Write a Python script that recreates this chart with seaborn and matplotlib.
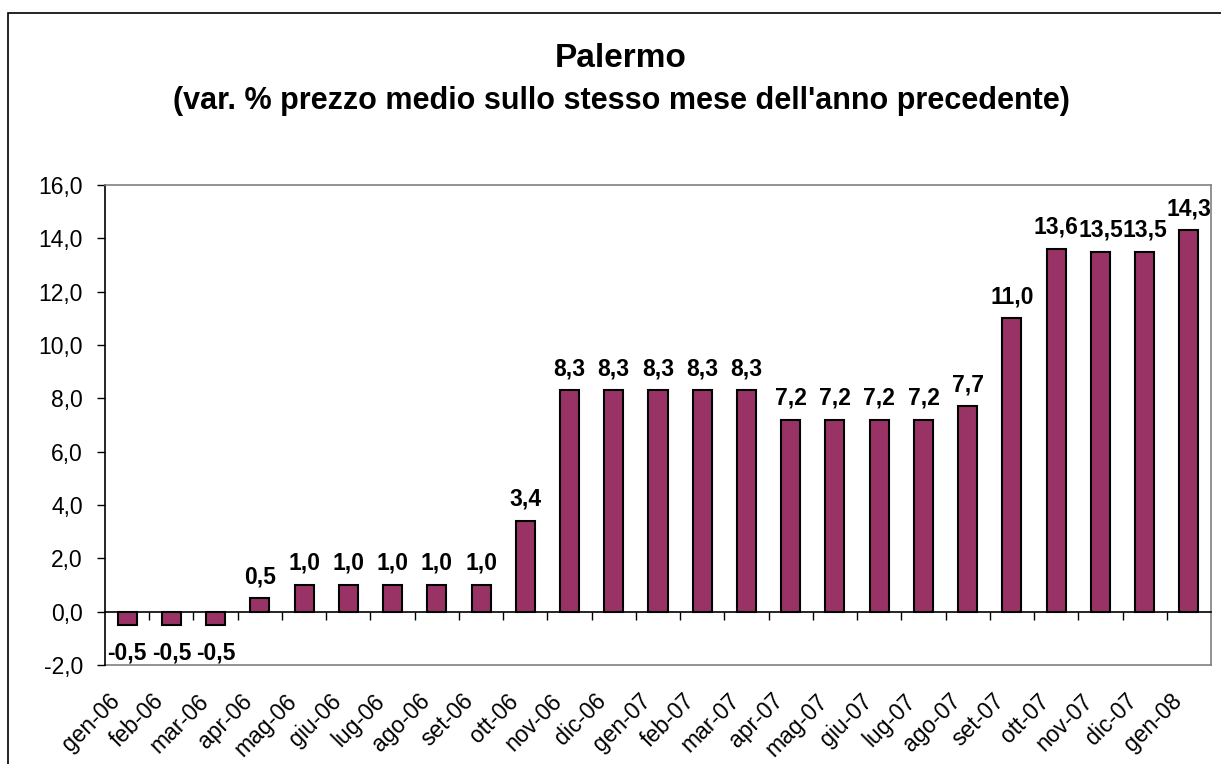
import matplotlib
matplotlib.use("Agg")
import matplotlib.pyplot as plt
import seaborn as sns
import pandas as pd
from matplotlib.patches import Rectangle
from matplotlib.ticker import FixedLocator, FuncFormatter, NullFormatter
import matplotlib.transforms as mtrans

months = ["gen-06", "feb-06", "mar-06", "apr-06", "mag-06", "giu-06", "lug-06",
          "ago-06", "set-06", "ott-06", "nov-06", "dic-06", "gen-07", "feb-07",
          "mar-07", "apr-07", "mag-07", "giu-07", "lug-07", "ago-07", "set-07",
          "ott-07", "nov-07", "dic-07", "gen-08"]
values = [-0.5, -0.5, -0.5, 0.5, 1.0, 1.0, 1.0, 1.0, 1.0, 3.4, 8.3, 8.3, 8.3,
          8.3, 8.3, 7.2, 7.2, 7.2, 7.2, 7.7, 11.0, 13.6, 13.5, 13.5, 14.3]
y_ticks = [-2, 0, 2, 4, 6, 8, 10, 12, 14, 16]
title = "Palermo"
subtitle = "(var. % prezzo medio sullo stesso mese dell'anno precedente)"

sns.set_style("white")
plt.rcParams["font.family"] = ["Liberation Sans", "DejaVu Sans"]
plt.rcParams["text.color"] = "black"
plt.rcParams["xtick.color"] = "black"
plt.rcParams["ytick.color"] = "black"
plt.rcParams["xtick.labelcolor"] = "black"
plt.rcParams["ytick.labelcolor"] = "black"

W, H = 1221, 764
fig = plt.figure(figsize=(W / 100, H / 100), dpi=100)
ax = fig.add_axes([105 / W, 1 - 665 / H, (1211 - 105) / W, (665 - 185) / H])

df = pd.DataFrame({"mese": months, "var": values})
sns.barplot(data=df, x="mese", y="var", color="#993366", saturation=1,
            edgecolor="black", linewidth=1.5, width=0.43, ax=ax)

ax.set_xlim(-0.5, len(months) - 0.5)
ax.set_ylim(y_ticks[0], y_ticks[-1])
ax.set_xlabel("")
ax.set_ylabel("")

# y axis
ax.yaxis.set_major_locator(FixedLocator(y_ticks))
ax.yaxis.set_major_formatter(FuncFormatter(lambda v, p: f"{v:.1f}".replace(".", ",")))
ax.tick_params(axis="y", which="major", left=True, direction="out", length=6,
               width=1, color="black", labelsize=16.5, labelcolor="black", pad=10)

# zero line with category separators
ax.spines["bottom"].set_position(("data", 0))
ax.spines["bottom"].set_color("black")
ax.spines["bottom"].set_linewidth(1.2)
ax.xaxis.set_major_locator(FixedLocator([i + 0.5 for i in range(len(months) - 1)]))
ax.xaxis.set_major_formatter(NullFormatter())
ax.tick_params(axis="x", which="major", bottom=True, direction="out", length=6,
               width=1, color="black")

ax.spines["left"].set_color("black")
ax.spines["left"].set_linewidth(1.2)
for s in ["top", "right"]:
    ax.spines[s].set_visible(True)
    ax.spines[s].set_color("#808080")
    ax.spines[s].set_linewidth(1.2)

# category labels on a secondary axis at the bottom of the plot area
sec = ax.secondary_xaxis(location=0)
sec.set_xticks(range(len(months)))
sec.set_xticklabels(months, rotation=45, ha="right", va="top",
                    rotation_mode="anchor", fontsize=16.5, color="black")
sec.tick_params(axis="x", length=0, pad=14)
sec.spines["bottom"].set_color("#808080")
sec.spines["bottom"].set_linewidth(1.2)
offset = mtrans.ScaledTranslation(-19 / 100, -5 / 100, fig.dpi_scale_trans)
for lbl in sec.get_xticklabels():
    lbl.set_transform(lbl.get_transform() + offset)

# value labels
for i, v in enumerate(values):
    txt = f"{v:.1f}".replace(".", ",")
    if v >= 0:
        ax.annotate(txt, (i, v), xytext=(0, 11), textcoords="offset points",
                    ha="center", va="baseline", fontsize=16.5, fontweight="bold",
                    color="black")
    else:
        ax.annotate(txt, (i, v), xytext=(0, -25), textcoords="offset points",
                    ha="center", va="baseline", fontsize=16.5, fontweight="bold",
                    color="black")

# titles
fig.text(621 / W, 1 - 67 / H, title, ha="center", va="baseline",
         fontsize=24, fontweight="bold", color="black")
fig.text(621 / W, 1 - 109 / H, subtitle, ha="center", va="baseline",
         fontsize=22, fontweight="bold", color="black")

# outer chart frame (cut off at right and bottom)
fig.patches.append(Rectangle((8 / W, -0.2), 1.2, 1.2 - 13 / H,
                             transform=fig.transFigure, fill=False,
                             edgecolor="black", linewidth=1.2))

fig.savefig("out.png", dpi=100)
